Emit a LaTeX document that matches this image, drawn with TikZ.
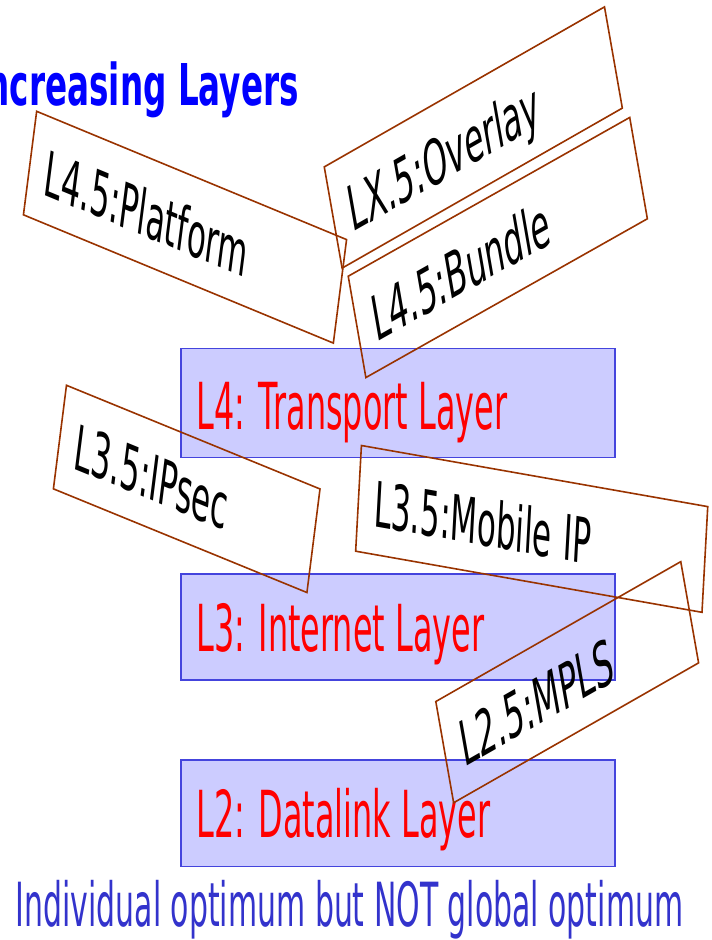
\documentclass[tikz,border=0pt]{standalone}
\usepackage{fontspec}
\newfontfamily\slidefont[FakeStretch=0.885]{DejaVu Sans}
\newfontfamily\titlefont[FakeStretch=1.02]{DejaVu Sans}
\definecolor{brn}{RGB}{153,51,0}
\definecolor{lav}{RGB}{204,204,255}
\definecolor{edgeblue}{RGB}{68,68,221}
\definecolor{capblue}{RGB}{51,51,204}
\definecolor{titleblue}{RGB}{0,0,255}
\tikzset{
  tag/.style={draw=brn, line width=1.6pt,
    font=\slidefont\fontsize{35}{40}\selectfont,
    inner xsep=16pt, inner ysep=0pt, minimum height=59pt,
    align=left, text height=28pt, text depth=0pt, yscale=1.8},
  layerbox/.style={draw=edgeblue, fill=lav, line width=1.5pt,
    inner sep=0pt, minimum width=434pt},
  layertext/.style={anchor=base west, inner sep=0pt, text=red,
    font=\slidefont\fontsize{36}{40}\selectfont, yscale=1.8}
}
\begin{document}
\begin{tikzpicture}[x=1pt, y=-1pt]
\useasboundingbox (0,0) rectangle (712,940);
\clip (0,0) rectangle (712,940);

% title
\node[anchor=base east, inner sep=0pt, text=titleblue,
      font=\titlefont\bfseries\fontsize{32}{36}\selectfont, yscale=1.8]
  (title) at (299,105) {Increasing Layers};

% layer bars
\node[layerbox, minimum height=109.4pt] (l4) at (398,403) {};
\node[layerbox, minimum height=106pt] (l3) at (398,627) {};
\node[layerbox, minimum height=106.7pt] (l2) at (398,813.3) {};
\node[layertext] (l4t) at (196.3,429.3) {L4: Transport Layer};
\node[layertext] (l3t) at (196.3,651.7) {L3: Internet Layer};
\node[layertext] (l2t) at (196.3,837.3) {L2: Datalink Layer};

% in-between layers
\node[tag, text width=286pt, rotate=-12.95] (plat) at (185,227.2) {L4.5:Platform};
\node[tag, text width=262pt, rotate=17.6] (ovl) at (473.3,137.5) {LX.5:Overlay};
\node[tag, text width=263pt, rotate=17.4] (bnd) at (497.8,247.5) {L4.5:Bundle};
\node[tag, text width=228pt, rotate=-12.8] (ipsec) at (186.7,488.9) {L3.5:IPsec};
\node[tag, text width=316pt, rotate=-5.6] (mip) at (531.7,528.9) {L3.5:Mobile IP};
\node[tag, text width=225pt, rotate=17.6] (mpls) at (567.2,682.2) {L2.5:MPLS};

% caption
\node[anchor=base west, inner sep=0pt, text=capblue,
      font=\slidefont\fontsize{33.8}{38}\selectfont, yscale=1.8]
  (cap) at (15.5,926) {Individual optimum but NOT global optimum};
\end{tikzpicture}
\end{document}
